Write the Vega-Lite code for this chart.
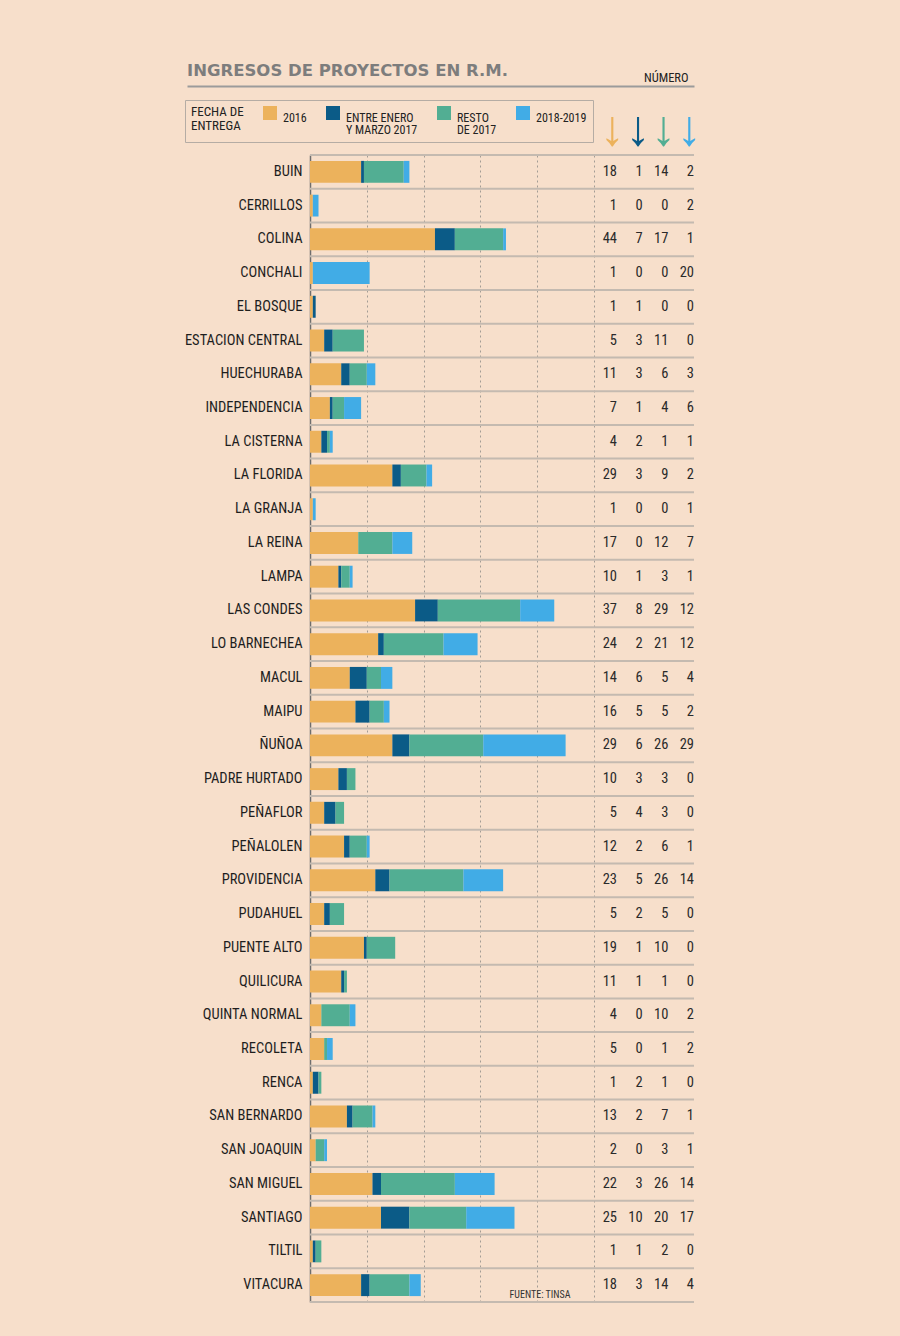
{
  "$schema": "https://vega.github.io/schema/vega-lite/v6.json",
  "width": 507,
  "height": 1147,
  "autosize": {"type": "none"},
  "padding": {"left": 187, "top": 155, "right": 206, "bottom": 34},
  "background": "#f7dfcb",
  "config": {"view": {"stroke": null}, "style": {"guide-label": {"lineHeight": 11.5}}},
  "title": {"text": "INGRESOS DE PROYECTOS EN R.M.", "anchor": "start", "frame": "group", "font": "DejaVu Sans", "fontSize": 16.5, "fontWeight": "bold", "color": "#7d7d7d", "offset": -8},
  "data": {"values": [
    {"comuna": "BUIN", "a_2016": 18, "b_ene_mar_2017": 1, "c_resto_2017": 14, "d_2018_2019": 2},
    {"comuna": "CERRILLOS", "a_2016": 1, "b_ene_mar_2017": 0, "c_resto_2017": 0, "d_2018_2019": 2},
    {"comuna": "COLINA", "a_2016": 44, "b_ene_mar_2017": 7, "c_resto_2017": 17, "d_2018_2019": 1},
    {"comuna": "CONCHALI", "a_2016": 1, "b_ene_mar_2017": 0, "c_resto_2017": 0, "d_2018_2019": 20},
    {"comuna": "EL BOSQUE", "a_2016": 1, "b_ene_mar_2017": 1, "c_resto_2017": 0, "d_2018_2019": 0},
    {"comuna": "ESTACION CENTRAL", "a_2016": 5, "b_ene_mar_2017": 3, "c_resto_2017": 11, "d_2018_2019": 0},
    {"comuna": "HUECHURABA", "a_2016": 11, "b_ene_mar_2017": 3, "c_resto_2017": 6, "d_2018_2019": 3},
    {"comuna": "INDEPENDENCIA", "a_2016": 7, "b_ene_mar_2017": 1, "c_resto_2017": 4, "d_2018_2019": 6},
    {"comuna": "LA CISTERNA", "a_2016": 4, "b_ene_mar_2017": 2, "c_resto_2017": 1, "d_2018_2019": 1},
    {"comuna": "LA FLORIDA", "a_2016": 29, "b_ene_mar_2017": 3, "c_resto_2017": 9, "d_2018_2019": 2},
    {"comuna": "LA GRANJA", "a_2016": 1, "b_ene_mar_2017": 0, "c_resto_2017": 0, "d_2018_2019": 1},
    {"comuna": "LA REINA", "a_2016": 17, "b_ene_mar_2017": 0, "c_resto_2017": 12, "d_2018_2019": 7},
    {"comuna": "LAMPA", "a_2016": 10, "b_ene_mar_2017": 1, "c_resto_2017": 3, "d_2018_2019": 1},
    {"comuna": "LAS CONDES", "a_2016": 37, "b_ene_mar_2017": 8, "c_resto_2017": 29, "d_2018_2019": 12},
    {"comuna": "LO BARNECHEA", "a_2016": 24, "b_ene_mar_2017": 2, "c_resto_2017": 21, "d_2018_2019": 12},
    {"comuna": "MACUL", "a_2016": 14, "b_ene_mar_2017": 6, "c_resto_2017": 5, "d_2018_2019": 4},
    {"comuna": "MAIPU", "a_2016": 16, "b_ene_mar_2017": 5, "c_resto_2017": 5, "d_2018_2019": 2},
    {"comuna": "ÑUÑOA", "a_2016": 29, "b_ene_mar_2017": 6, "c_resto_2017": 26, "d_2018_2019": 29},
    {"comuna": "PADRE HURTADO", "a_2016": 10, "b_ene_mar_2017": 3, "c_resto_2017": 3, "d_2018_2019": 0},
    {"comuna": "PEÑAFLOR", "a_2016": 5, "b_ene_mar_2017": 4, "c_resto_2017": 3, "d_2018_2019": 0},
    {"comuna": "PEÑALOLEN", "a_2016": 12, "b_ene_mar_2017": 2, "c_resto_2017": 6, "d_2018_2019": 1},
    {"comuna": "PROVIDENCIA", "a_2016": 23, "b_ene_mar_2017": 5, "c_resto_2017": 26, "d_2018_2019": 14},
    {"comuna": "PUDAHUEL", "a_2016": 5, "b_ene_mar_2017": 2, "c_resto_2017": 5, "d_2018_2019": 0},
    {"comuna": "PUENTE ALTO", "a_2016": 19, "b_ene_mar_2017": 1, "c_resto_2017": 10, "d_2018_2019": 0},
    {"comuna": "QUILICURA", "a_2016": 11, "b_ene_mar_2017": 1, "c_resto_2017": 1, "d_2018_2019": 0},
    {"comuna": "QUINTA NORMAL", "a_2016": 4, "b_ene_mar_2017": 0, "c_resto_2017": 10, "d_2018_2019": 2},
    {"comuna": "RECOLETA", "a_2016": 5, "b_ene_mar_2017": 0, "c_resto_2017": 1, "d_2018_2019": 2},
    {"comuna": "RENCA", "a_2016": 1, "b_ene_mar_2017": 2, "c_resto_2017": 1, "d_2018_2019": 0},
    {"comuna": "SAN BERNARDO", "a_2016": 13, "b_ene_mar_2017": 2, "c_resto_2017": 7, "d_2018_2019": 1},
    {"comuna": "SAN JOAQUIN", "a_2016": 2, "b_ene_mar_2017": 0, "c_resto_2017": 3, "d_2018_2019": 1},
    {"comuna": "SAN MIGUEL", "a_2016": 22, "b_ene_mar_2017": 3, "c_resto_2017": 26, "d_2018_2019": 14},
    {"comuna": "SANTIAGO", "a_2016": 25, "b_ene_mar_2017": 10, "c_resto_2017": 20, "d_2018_2019": 17},
    {"comuna": "TILTIL", "a_2016": 1, "b_ene_mar_2017": 1, "c_resto_2017": 2, "d_2018_2019": 0},
    {"comuna": "VITACURA", "a_2016": 18, "b_ene_mar_2017": 3, "c_resto_2017": 14, "d_2018_2019": 4}
  ]},
  "resolve": {"scale": {"x": "independent"}, "axis": {"x": "independent"}},
  "layer": [
    {
      "resolve": {"axis": {"x": "independent"}},
      "layer": [
        {
          "transform": [{"fold": ["a_2016", "b_ene_mar_2017", "c_resto_2017", "d_2018_2019"], "as": ["serie", "valor"]}],
          "mark": {"type": "bar", "height": {"band": 0.65}},
          "encoding": {
            "y": {"field": "comuna", "type": "nominal", "sort": null, "scale": {"paddingInner": 0, "paddingOuter": 0},
              "axis": {"orient": "left", "offset": -123, "domainColor": "#6e6e6e", "domainWidth": 1.5, "ticks": false, "labelPadding": 8, "labelFont": "'Liberation Sans Narrow', 'Roboto Condensed', 'DejaVu Sans Condensed', sans-serif", "labelFontSize": 14.5, "labelColor": "#1e1e1e", "title": null, "grid": false}},
            "x": {"field": "valor", "type": "quantitative", "stack": "zero", "scale": {"domain": [-43.3, 135.2], "nice": false, "zero": false},
              "axis": {"orient": "bottom", "grid": true, "values": [20, 40, 60, 80, 100], "domain": false, "ticks": false, "labels": false, "gridColor": "#a39c95", "gridDash": [2, 3], "gridWidth": 1,
                "title": "FUENTE: TINSA", "titleX": 322, "titleY": -5, "titleAlign": "left", "titleBaseline": "alphabetic", "titleFont": "'Liberation Sans Narrow', 'Roboto Condensed', 'DejaVu Sans Condensed', sans-serif", "titleFontSize": 10, "titleFontWeight": "normal", "titleColor": "#333333"}},
            "color": {"field": "serie", "type": "nominal",
              "scale": {"domain": ["a_2016", "b_ene_mar_2017", "c_resto_2017", "d_2018_2019"], "range": ["#ecb25c", "#0b5b87", "#52ae93", "#41ace6"]},
              "legend": {"orient": "none", "legendX": -2, "legendY": -55, "direction": "horizontal", "gridAlign": "none",
                "title": ["FECHA DE", "ENTREGA"], "titleOrient": "left", "titleAnchor": "start", "titleFont": "'Liberation Sans Narrow', 'Roboto Condensed', 'DejaVu Sans Condensed', sans-serif", "titleFontSize": 13, "titleLineHeight": 13.5, "titleFontWeight": "normal", "titleColor": "#222222", "titlePadding": 19, "titleBaseline": "top",
                "labelExpr": "datum.value == 'a_2016' ? '2016' : datum.value == 'b_ene_mar_2017' ? ['ENTRE ENERO', 'Y MARZO 2017'] : datum.value == 'c_resto_2017' ? ['RESTO', 'DE 2017'] : '2018-2019'",
                "labelFont": "'Liberation Sans Narrow', 'Roboto Condensed', 'DejaVu Sans Condensed', sans-serif", "labelFontSize": 12, "labelColor": "#222222", "labelBaseline": "top", "labelOffset": 6,
                "symbolType": "square", "symbolSize": 196, "symbolStrokeWidth": 0, "symbolOpacity": 1, "columnPadding": 19,
                "strokeColor": "#b5aca4", "padding": 6}}
          }
        },
        {
          "mark": {"type": "rule", "color": "#c4bab0", "strokeWidth": 2},
          "encoding": {
            "y": {"field": "comuna", "type": "nominal", "sort": null, "bandPosition": 0},
            "x": {"datum": 0, "type": "quantitative", "scale": {"domain": [-43.3, 135.2], "nice": false, "zero": false},
              "axis": {"orient": "top", "offset": 69, "domainColor": "#9b9b9b", "domainWidth": 2, "ticks": false, "labels": false, "grid": false, "title": null}},
            "x2": {"datum": 135.2}
          }
        },
        {
          "transform": [{"filter": "datum.comuna == 'VITACURA'"}],
          "mark": {"type": "rule", "color": "#c4bab0", "strokeWidth": 2},
          "encoding": {
            "y": {"field": "comuna", "type": "nominal", "sort": null, "bandPosition": 1},
            "x": {"datum": 0, "type": "quantitative", "scale": {"domain": [-43.3, 135.2], "nice": false, "zero": false}, "axis": null},
            "x2": {"datum": 135.2}
          }
        }
      ]
    },
    {
      "transform": [{"fold": ["a_2016", "b_ene_mar_2017", "c_resto_2017", "d_2018_2019"], "as": ["serie", "valor"]}],
      "mark": {"type": "text", "align": "right", "baseline": "middle", "fontSize": 14.5, "font": "'Liberation Sans Narrow', 'Roboto Condensed', 'DejaVu Sans Condensed', sans-serif", "color": "#2a2a2a"},
      "encoding": {
        "y": {"field": "comuna", "type": "nominal", "sort": null},
        "x": {"field": "serie", "type": "nominal",
          "scale": {"type": "point", "domain": ["a_2016", "b_ene_mar_2017", "c_resto_2017", "d_2018_2019"], "range": [430, 507], "padding": 0},
          "axis": {"orient": "top", "domain": false, "ticks": false, "grid": false,
            "labelExpr": "'↓'", "labelFont": "Liberation Sans", "labelFontSize": 50, "labelFontWeight": "bold", "labelAngle": 0, "labelBaseline": "top", "labelPadding": 50.5, "labelOffset": -5, "labelOverlap": false, "labelBound": false,
            "labelColor": {"expr": "datum.value == 'a_2016' ? '#ecb25c' : datum.value == 'b_ene_mar_2017' ? '#0b5b87' : datum.value == 'c_resto_2017' ? '#52ae93' : '#41ace6'"},
            "title": "NÚMERO", "titleX": 501, "titleY": -74, "titleAlign": "right", "titleBaseline": "alphabetic", "titleFont": "'Liberation Sans Narrow', 'Roboto Condensed', 'DejaVu Sans Condensed', sans-serif", "titleFontSize": 12.5, "titleFontWeight": "normal", "titleColor": "#222222"}},
        "text": {"field": "valor", "type": "quantitative"}
      }
    }
  ]
}
